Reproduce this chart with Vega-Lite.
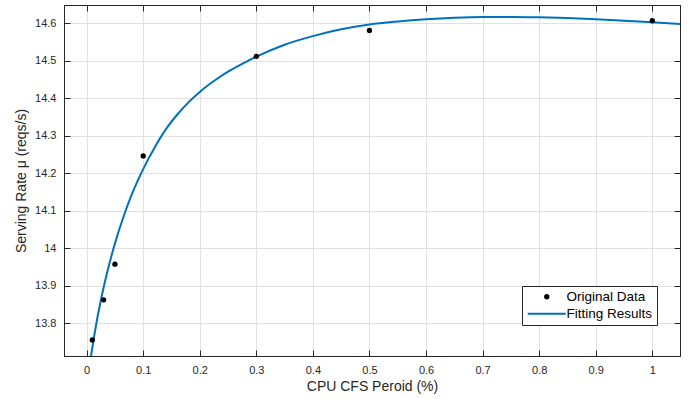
{
  "$schema": "https://vega.github.io/schema/vega-lite/v6.json",
  "width": 616,
  "height": 351,
  "autosize": {"type": "none"},
  "padding": {"left": 64, "top": 5, "right": 8, "bottom": 43},
  "background": "white",
  "config": {
    "font": "Liberation Sans",
    "view": {"stroke": "#262626", "strokeWidth": 1},
    "axis": {
      "domainColor": "#262626",
      "tickColor": "#262626",
      "labelColor": "#262626",
      "titleColor": "#262626",
      "gridColor": "#e1e1e1",
      "gridWidth": 1,
      "labelFontSize": 11,
      "titleFontSize": 14,
      "titleFontWeight": "normal",
      "tickSize": -6,
      "tickWidth": 1
    },
    "legend": {
      "fillColor": "white",
      "strokeColor": "#262626",
      "padding": 4,
      "labelFontSize": 13.5,
      "labelColor": "#000000",
      "symbolSize": 100,
      "symbolOffset": 14,
      "labelOffset": 13,
      "rowPadding": 2,
      "symbolStrokeWidth": 2
    }
  },
  "data": {
    "values": [
      {"x": 0.01, "y": 13.755, "series": "Original Data"},
      {"x": 0.03, "y": 13.862, "series": "Original Data"},
      {"x": 0.05, "y": 13.957, "series": "Original Data"},
      {"x": 0.1, "y": 14.246, "series": "Original Data"},
      {"x": 0.3, "y": 14.512, "series": "Original Data"},
      {"x": 0.5, "y": 14.581, "series": "Original Data"},
      {"x": 1.0, "y": 14.607, "series": "Original Data"},
      {"x": 0.0078, "y": 13.712, "series": "Fitting Results"},
      {"x": 0.015, "y": 13.78, "series": "Fitting Results"},
      {"x": 0.025, "y": 13.86, "series": "Fitting Results"},
      {"x": 0.035, "y": 13.927, "series": "Fitting Results"},
      {"x": 0.05, "y": 14.012, "series": "Fitting Results"},
      {"x": 0.065, "y": 14.083, "series": "Fitting Results"},
      {"x": 0.08, "y": 14.144, "series": "Fitting Results"},
      {"x": 0.1, "y": 14.211, "series": "Fitting Results"},
      {"x": 0.12, "y": 14.268, "series": "Fitting Results"},
      {"x": 0.14, "y": 14.317, "series": "Fitting Results"},
      {"x": 0.16, "y": 14.356, "series": "Fitting Results"},
      {"x": 0.18, "y": 14.389, "series": "Fitting Results"},
      {"x": 0.2, "y": 14.417, "series": "Fitting Results"},
      {"x": 0.225, "y": 14.446, "series": "Fitting Results"},
      {"x": 0.25, "y": 14.471, "series": "Fitting Results"},
      {"x": 0.275, "y": 14.492, "series": "Fitting Results"},
      {"x": 0.3, "y": 14.511, "series": "Fitting Results"},
      {"x": 0.35, "y": 14.543, "series": "Fitting Results"},
      {"x": 0.4, "y": 14.566, "series": "Fitting Results"},
      {"x": 0.45, "y": 14.584, "series": "Fitting Results"},
      {"x": 0.5, "y": 14.597, "series": "Fitting Results"},
      {"x": 0.55, "y": 14.605, "series": "Fitting Results"},
      {"x": 0.6, "y": 14.611, "series": "Fitting Results"},
      {"x": 0.65, "y": 14.615, "series": "Fitting Results"},
      {"x": 0.7, "y": 14.617, "series": "Fitting Results"},
      {"x": 0.75, "y": 14.617, "series": "Fitting Results"},
      {"x": 0.8, "y": 14.616, "series": "Fitting Results"},
      {"x": 0.85, "y": 14.614, "series": "Fitting Results"},
      {"x": 0.9, "y": 14.611, "series": "Fitting Results"},
      {"x": 0.95, "y": 14.607, "series": "Fitting Results"},
      {"x": 1.0, "y": 14.603, "series": "Fitting Results"},
      {"x": 1.049, "y": 14.598, "series": "Fitting Results"}
    ]
  },
  "layer": [
    {
      "transform": [{"filter": "datum.series === 'Fitting Results'"}],
      "mark": {"type": "line", "strokeWidth": 2, "interpolate": "monotone", "clip": true},
      "encoding": {
        "x": {
          "field": "x", "type": "quantitative",
          "scale": {"domain": [-0.04, 1.049], "nice": false, "zero": false},
          "axis": {"orient": "top", "values": [0, 0.1, 0.2, 0.3, 0.4, 0.5, 0.6, 0.7, 0.8, 0.9, 1], "labels": false, "title": null, "grid": false}
        },
        "y": {
          "field": "y", "type": "quantitative",
          "scale": {"domain": [13.712, 14.649], "nice": false, "zero": false},
          "axis": {"orient": "right", "values": [13.8, 13.9, 14, 14.1, 14.2, 14.3, 14.4, 14.5, 14.6], "labels": false, "title": null, "grid": false}
        },
        "color": {
          "field": "series", "type": "nominal",
          "scale": {"domain": ["Original Data", "Fitting Results"], "range": ["#000000", "#0072BD"]},
          "legend": {
            "title": null,
            "orient": "none",
            "legendX": 458,
            "legendY": 281,
            "direction": "vertical",
            "strokeColor": "#262626",
            "fillColor": "white",
            "encode": {
              "legend": {
                "update": {
                  "stroke": {"value": "#262626"},
                  "strokeWidth": {"value": 1},
                  "fill": {"value": "white"}
                }
              },
              "symbols": {
                "update": {
                  "shape": {"signal": "datum.value === 'Fitting Results' ? 'stroke' : 'circle'"},
                  "size": {"signal": "datum.value === 'Fitting Results' ? 1444 : 28"},
                  "stroke": {"signal": "datum.value === 'Fitting Results' ? '#0072BD' : '#000000'"},
                  "strokeWidth": {"signal": "datum.value === 'Fitting Results' ? 2 : 0"},
                  "fill": {"signal": "datum.value === 'Fitting Results' ? 'transparent' : '#000000'"},
                  "opacity": {"value": 1}
                }
              }
            }
          }
        }
      }
    },
    {
      "transform": [{"filter": "datum.series === 'Original Data'"}],
      "mark": {"type": "point", "filled": true, "opacity": 1, "size": 28},
      "encoding": {
        "x": {
          "field": "x", "type": "quantitative",
          "axis": {"orient": "bottom", "values": [0, 0.1, 0.2, 0.3, 0.4, 0.5, 0.6, 0.7, 0.8, 0.9, 1], "format": ".1~f", "title": "CPU CFS Peroid (%)", "grid": true, "labelPadding": 14, "titlePadding": 4}
        },
        "y": {
          "field": "y", "type": "quantitative",
          "axis": {"orient": "left", "values": [13.8, 13.9, 14, 14.1, 14.2, 14.3, 14.4, 14.5, 14.6], "format": ".1~f", "title": "Serving Rate μ (reqs/s)", "grid": true, "labelPadding": 14, "titlePadding": 6}
        },
        "color": {"field": "series", "type": "nominal"}
      }
    }
  ],
  "resolve": {"axis": {"x": "independent", "y": "independent"}}
}
